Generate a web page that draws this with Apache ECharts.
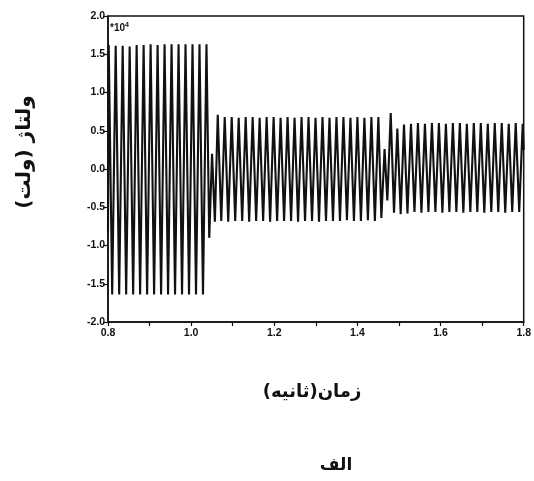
<!DOCTYPE html>
<html>
<head>
<meta charset="utf-8">
<script src="https://cdn.jsdelivr.net/npm/echarts@6/dist/echarts.min.js"></script>
<style>
  html, body { margin: 0; padding: 0; background: #fff; }
  #chart { width: 534px; height: 481px; }
</style>
</head>
<body>
<div id="chart"></div>
<script>
// Voltage waveform (×10^4 V) stored as successive peaks/troughs.
// Regular stretches are sampled every half cycle; transient stretches list their own times.
const halfPeriod = 0.0084;           // seconds between a peak and the next trough

const startPoint = [0.800, -0.82];

// Before the event: large oscillation
const burstStart = 0.8017;
const burstValues = [
  1.62, -1.64, 1.61, -1.64, 1.61, -1.64, 1.60, -1.64, 1.62, -1.64,
  1.62, -1.64, 1.63, -1.64, 1.62, -1.64, 1.63, -1.64, 1.63, -1.64,
  1.63, -1.64, 1.63, -1.64, 1.63, -1.64, 1.63, -1.64, 1.63
];

// Collapse of the amplitude
const faultTimes  = [1.0435, 1.0503, 1.0571];
const faultValues = [-0.90, 0.20, -0.69];

// Reduced oscillation
const postStart = 1.0640;
const postValues = [
  0.71, -0.68, 0.68, -0.69, 0.68, -0.68, 0.67, -0.68, 0.68, -0.69,
  0.68, -0.68, 0.67, -0.68, 0.68, -0.69, 0.68, -0.68, 0.67, -0.68,
  0.68, -0.68, 0.67, -0.69, 0.68, -0.68, 0.68, -0.68, 0.67, -0.69,
  0.68, -0.68, 0.67, -0.68, 0.68, -0.68, 0.68, -0.67, 0.67, -0.68,
  0.68, -0.68, 0.67, -0.67, 0.68, -0.68, 0.68
];

// Second disturbance
const recoveryTimes  = [1.4576, 1.4653, 1.4720, 1.4801, 1.4880, 1.4960, 1.5041];
const recoveryValues = [-0.64, 0.26, -0.41, 0.73, -0.57, 0.53, -0.59];

// Final steady oscillation
const finalStart = 1.5120;
const finalValues = [
  0.58, -0.58, 0.59, -0.56, 0.60, -0.57, 0.59, -0.56, 0.60, -0.56,
  0.60, -0.57, 0.59, -0.56, 0.60, -0.56, 0.60, -0.57, 0.59, -0.56,
  0.60, -0.56, 0.60, -0.57, 0.59, -0.56, 0.60, -0.56, 0.60, -0.57,
  0.59, -0.56, 0.60, -0.56, 0.59
];
const endPoint = [1.800, 0.25];

// Axis ranges and ticks
const xMin = 0.8, xMax = 1.8, xStep = 0.2;
const yMin = -2.0, yMax = 2.0, yStep = 0.5;

function sampled(start, values) {
  return values.map((v, i) => [start + i * halfPeriod, v]);
}
function paired(times, values) {
  return times.map((t, i) => [t, values[i]]);
}

const waveform = [startPoint]
  .concat(sampled(burstStart, burstValues))
  .concat(paired(faultTimes, faultValues))
  .concat(sampled(postStart, postValues))
  .concat(paired(recoveryTimes, recoveryValues))
  .concat(sampled(finalStart, finalValues))
  .concat([endPoint]);

const ink = '#111';
const tickFont = { color: ink, fontFamily: 'Liberation Sans, Arial, sans-serif', fontWeight: 'bold', fontSize: 10.5 };
const persianFont = 'DejaVu Sans, sans-serif';

const chart = echarts.init(document.getElementById('chart'), null, { renderer: 'canvas' });
chart.setOption({
  animation: false,
  backgroundColor: '#fff',
  grid: {
    left: 108, right: 9, top: 16, bottom: 159,
    show: true, borderColor: ink, borderWidth: 1.5, backgroundColor: 'transparent'
  },
  xAxis: {
    type: 'value', min: xMin, max: xMax, interval: xStep,
    axisLine: { show: true, onZero: false, lineStyle: { color: ink, width: 1.5 } },
    axisTick: { show: true, length: 4, lineStyle: { color: ink, width: 1.2 } },
    minorTick: { show: true, splitNumber: 2, length: 4, lineStyle: { color: ink, width: 1.2 } },
    splitLine: { show: false },
    axisLabel: { ...tickFont, margin: 6, formatter: v => v.toFixed(1) }
  },
  yAxis: {
    type: 'value', min: yMin, max: yMax, interval: yStep,
    axisLine: { show: true, onZero: false, lineStyle: { color: ink, width: 1.5 } },
    axisTick: { show: true, length: 5, lineStyle: { color: ink, width: 1.2 } },
    splitLine: { show: false },
    axisLabel: { ...tickFont, margin: 3, formatter: v => v.toFixed(1) }
  },
  series: [{
    type: 'line',
    data: waveform,
    showSymbol: false,
    symbol: 'none',
    lineStyle: { color: ink, width: 2.1, join: 'bevel' },
    clip: true
  }],
  graphic: [
    {
      type: 'text', x: 110, y: 28,
      style: {
        text: '*10{s|4}', fill: ink, font: 'bold 10px Liberation Sans, Arial, sans-serif',
        textAlign: 'left', textVerticalAlign: 'middle',
        rich: { s: { fontSize: 7, fontWeight: 'bold', verticalAlign: 'top', padding: [0, 0, 5, 0] } }
      }
    },
    {
      type: 'text', x: 25, y: 152, rotation: Math.PI / 2,
      style: {
        text: 'ولتاژ (ولت)', fill: ink, font: 'bold 20px ' + persianFont,
        textAlign: 'center', textVerticalAlign: 'middle'
      }
    },
    {
      type: 'text', x: 312, y: 392,
      style: {
        text: 'زمان(ثانیه)', fill: ink, font: 'bold 18px ' + persianFont,
        textAlign: 'center', textVerticalAlign: 'middle'
      }
    },
    {
      type: 'text', x: 336, y: 466,
      style: {
        text: 'الف', fill: ink, font: 'bold 17px ' + persianFont,
        textAlign: 'center', textVerticalAlign: 'middle'
      }
    }
  ]
});
</script>
</body>
</html>
